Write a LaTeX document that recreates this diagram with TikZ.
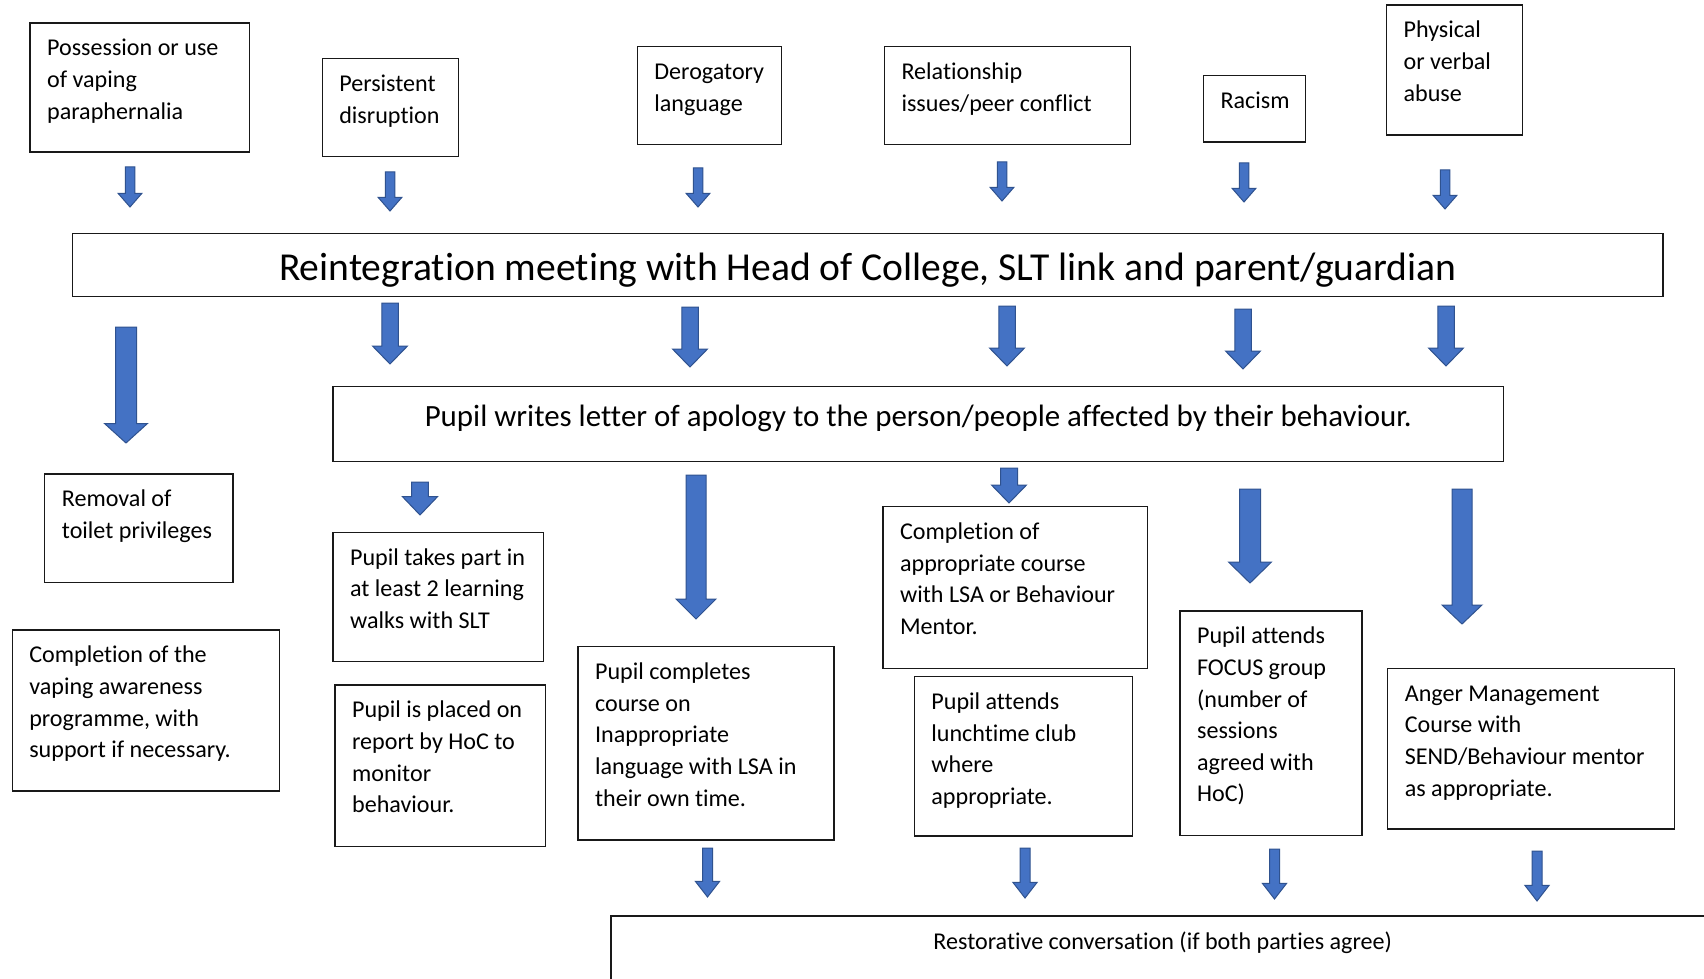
\documentclass[tikz,border=0pt]{standalone}
\usepackage{fontspec}
\setmainfont{Carlito}[Ligatures=NoCommon]
\usetikzlibrary{fit}
\definecolor{arrowblue}{HTML}{4472C4}
\definecolor{arrowedge}{HTML}{2F528F}
% block arrow pointing down: x, top, tip, shaft width, head width, head length
\newcommand{\downblock}[6]{%
  \filldraw[blockarr] (#1-#4/2,#2) -- (#1+#4/2,#2) -- (#1+#4/2,#3-#6) -- (#1+#5/2,#3-#6)
    -- (#1,#3) -- (#1-#5/2,#3-#6) -- (#1-#4/2,#3-#6) -- cycle;}
\tikzset{
  box/.style={draw=black!90, line width=0.6pt, inner sep=0pt},
  txt/.style={anchor=base west, inner sep=0pt, align=flush left, text width=160pt,
    font=\fontsize{12.05pt}{15.8pt}\selectfont},
  blockarr/.style={fill=arrowblue, draw=arrowedge, line width=0.5pt, line join=miter},
}

\begin{document}
\begin{tikzpicture}[x=0.5pt, y=-0.5pt]
\useasboundingbox (0,0) rectangle (1704,979);
\fill[white] (0,0) rectangle (1704,979);
\clip (0,0) rectangle (1704,979);
%%%%%%%%%%%%%%%%%%%%%%%%%%%%%%%% incidents
\node[box, fit={(30,23) (249.5,152)}] (possbox) {};
\node[txt] (posstext) at ([shift={(17.3,33.5)}]possbox.north west) {Possession or use\\of vaping\\paraphernalia};
\node[box, fit={(322.2,58.7) (458.5,156.7)}] (disrbox) {};
\node[txt] (disrtext) at ([shift={(17.3,33.5)}]disrbox.north west) {Persistent\\disruption};
\node[box, fit={(637.3,46.7) (781.7,144.7)}] (derobox) {};
\node[txt] (derotext) at ([shift={(17.3,33.5)}]derobox.north west) {Derogatory\\language};
\node[box, fit={(884.4,46.7) (1130.2,144.7)}] (relbox) {};
\node[txt] (reltext) at ([shift={(17.3,33.5)}]relbox.north west) {Relationship\\issues/peer conflict};
\node[box, fit={(1203.4,75.3) (1305.5,142)}] (racebox) {};
\node[txt] (racetext) at ([shift={(17.3,33.5)}]racebox.north west) {Racism};
\node[box, fit={(1386.5,5) (1522.3,135)}] (abusebox) {};
\node[txt] (abusetext) at ([shift={(17.3,33.5)}]abusebox.north west) {Physical\\or verbal\\abuse};
%%%%%%%%%%%%%%%%%%%%%%%%%%%%%%%%
\downblock{130}{167}{207}{9.5}{23.5}{13.5}
\downblock{390}{172}{211}{9.5}{23.5}{13.5}
\downblock{698}{168}{207}{9.5}{23.5}{13.5}
\downblock{1002}{162}{201}{9.5}{23.5}{13.5}
\downblock{1244}{163}{202}{9.5}{23.5}{13.5}
\downblock{1445}{170}{209}{9.5}{23.5}{13.5}
%%%%%%%%%%%%%%%%%%%%%%%%%%%%%%%% meeting
\node[box, fit={(72.8,233.5) (1663,296.5)}] (meetbox) {};
\node[anchor=base, inner sep=0pt, font=\fontsize{19.8pt}{24pt}\selectfont] (meettext) at (867.9,280.5)
  {Reintegration meeting with Head of College, SLT link and parent/guardian};
\downblock{126}{327}{443}{21}{43}{19.5}
\downblock{390}{303}{364}{16.5}{35}{18}
\downblock{690}{307}{367}{16.5}{35}{18}
\downblock{1007}{306}{366}{16.5}{35}{18}
\downblock{1243}{309}{369}{16.5}{35}{18}
\downblock{1446}{306}{366}{16.5}{35}{18}
%%%%%%%%%%%%%%%%%%%%%%%%%%%%%%%% apology
\node[box, fit={(333,386.7) (1503.7,461.7)}] (apolbox) {};
\node[anchor=base, inner sep=0pt, font=\fontsize{15.45pt}{18pt}\selectfont] (apoltext) at (918.3,426.5)
  {Pupil writes letter of apology to the person/people affected by their behaviour.};
%%%%%%%%%%%%%%%%%%%%%%%%%%%%%%%% sanctions
\node[box, fit={(44.8,474) (233,582.7)}] (toilbox) {};
\node[txt] (toiltext) at ([shift={(17.3,33.5)}]toilbox.north west) {Removal of\\toilet privileges};
\node[box, fit={(12.2,630) (279.4,791)}] (vapebox) {};
\node[txt] (vapetext) at ([shift={(17.3,33.5)}]vapebox.north west) {Completion of the\\vaping awareness\\programme, with\\support if necessary.};
\node[box, fit={(333,532.3) (543.4,661.7)}] (walkbox) {};
\node[txt] (walktext) at ([shift={(17.3,33.5)}]walkbox.north west) {Pupil takes part in\\at least 2 learning\\walks with SLT};
\node[box, fit={(335,685) (545.5,846.7)}] (repbox) {};
\node[txt] (reptext) at ([shift={(17.3,33.5)}]repbox.north west) {Pupil is placed on\\report by HoC to\\monitor\\behaviour.};
\node[box, fit={(578,646.7) (834,840)}] (langbox) {};
\node[txt] (langtext) at ([shift={(17.3,33.5)}]langbox.north west) {Pupil completes\\course on\\Inappropriate\\language with LSA in\\their own time.};
\node[box, fit={(883,506.7) (1147.5,668.3)}] (coursebox) {};
\node[txt] (coursetext) at ([shift={(17.3,33.5)}]coursebox.north west) {Completion of\\appropriate course\\with LSA or Behaviour\\Mentor.};
\node[box, fit={(914.3,676.7) (1132.5,836)}] (lunchbox) {};
\node[txt] (lunchtext) at ([shift={(17.3,33.5)}]lunchbox.north west) {Pupil attends\\lunchtime club\\where\\appropriate.};
\node[box, fit={(1180,611) (1362,835.7)}] (focusbox) {};
\node[txt] (focustext) at ([shift={(17.3,33.5)}]focusbox.north west) {Pupil attends\\FOCUS group\\(number of\\sessions\\agreed with\\HoC)};
\node[box, fit={(1387.7,668.3) (1674.7,829)}] (angerbox) {};
\node[txt] (angertext) at ([shift={(17.3,33.5)}]angerbox.north west) {Anger Management\\Course with\\SEND/Behaviour mentor\\as appropriate.};
%%%%%%%%%%%%%%%%%%%%%%%%%%%%%%%%
\downblock{420}{482}{515}{16.7}{35}{18.3}
\downblock{696}{475}{619}{20}{40}{20}
\downblock{1009}{468}{503}{17}{35}{18}
\downblock{1250}{489}{583}{21}{43}{21}
\downblock{1462}{489}{624}{20}{40}{19}
\downblock{707.5}{848}{897}{10}{24.3}{15.7}
\downblock{1025}{848}{898}{10}{24.3}{15.7}
\downblock{1274.5}{849}{899}{10}{24.3}{15.7}
\downblock{1537}{851}{901}{10}{24.3}{15.7}
%%%%%%%%%%%%%%%%%%%%%%%%%%%%%%%% restorative
\node[box, fit={(611,916) (1714,1010)}] (restbox) {};
\node[anchor=base, inner sep=0pt, font=\fontsize{12.05pt}{15.8pt}\selectfont] (resttext) at (1162.7,949)
  {Restorative conversation (if both parties agree)};
\end{tikzpicture}
\end{document}
